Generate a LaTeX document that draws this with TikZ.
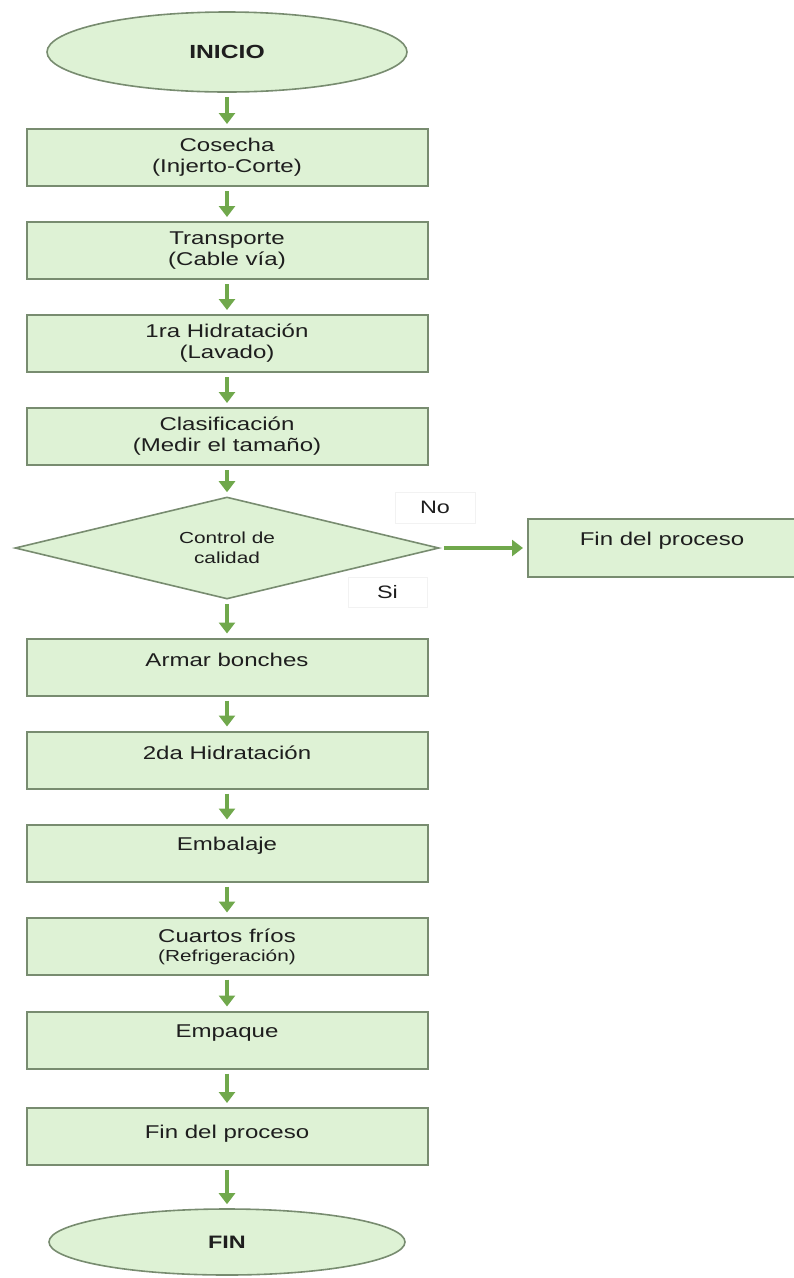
\documentclass[tikz,border=0pt]{standalone}
\usepackage{fontspec}
\setmainfont{Liberation Sans}[FakeStretch=1.3]
\usetikzlibrary{arrows.meta,shapes.geometric}
\definecolor{boxfill}{RGB}{222,242,213}
\definecolor{boxdraw}{RGB}{120,140,112}
\definecolor{arrgreen}{RGB}{112,168,76}
\definecolor{txtcol}{RGB}{30,30,30}
\begin{document}
\begin{tikzpicture}[x=1pt,y=-1pt,
  box/.style={draw=boxdraw,line width=2pt,fill=boxfill,minimum width=401pt,minimum height=57pt,inner sep=0pt},
  sidebox/.style={draw=boxdraw,line width=2pt,fill=boxfill,minimum width=268pt,minimum height=58pt,inner sep=0pt},
  oval/.style={ellipse,draw=boxdraw,line width=1.6pt,fill=boxfill,inner sep=0pt},
  dia/.style={diamond,draw=boxdraw,line width=1.6pt,fill=boxfill,inner sep=0pt,minimum width=424pt,minimum height=102pt},
  lbl/.style={text=txtcol,align=center,font=\fontsize{18.5}{21}\selectfont},
  small/.style={text=txtcol,align=center,font=\fontsize{16}{20}\selectfont},
  tag/.style={draw=black!5,fill=white,text=txtcol,font=\fontsize{18}{20}\selectfont,inner sep=0pt},
  arr/.style={draw=arrgreen,line width=3.5pt,-{Triangle[width=16pt,length=11pt]},shorten <=4pt,shorten >=4pt}]
\useasboundingbox (0,0) rectangle (794,1278);
% start
\node[oval,minimum width=360pt,minimum height=80pt] (start) at (227,52) {};
\node[text=txtcol,font=\fontsize{19}{21}\selectfont\bfseries] at (start.center) {INICIO};
% boxes
\node[box] (b1) at (227,157.5) {};
\node[lbl] at (b1.center) {Cosecha\\(Injerto-Corte)};
\node[box] (b2) at (227,250.5) {};
\node[lbl] at (b2.center) {Transporte\\(Cable vía)};
\node[box] (b3) at (227,343.5) {};
\node[lbl] at (b3.center) {1ra Hidratación\\(Lavado)};
\node[box] (b4) at (227,436.5) {};
\node[lbl] at (b4.center) {Clasificación\\(Medir el tamaño)};
% decision
\node[dia] (dec) at (227,548) {};
\node[small] at (dec.center) {Control de\\calidad};
\node[sidebox] (fp1) at (662,548) {};
\node[lbl] at ([yshift=7pt]fp1.center) {Fin del proceso};
\node[tag,minimum width=80pt,minimum height=31pt] (no) at (435,507.5) {No};
\node[tag,minimum width=79pt,minimum height=30pt] (si) at (387.5,592) {Si};
% lower boxes
\node[box] (b5) at (227,667) {};
\node[lbl] at ([yshift=7pt]b5.center) {Armar bonches};
\node[box] (b6) at (227,760) {};
\node[lbl] at ([yshift=7pt]b6.center) {2da Hidratación};
\node[box] (b7) at (227,853) {};
\node[lbl] at ([yshift=7pt]b7.center) {Embalaje};
\node[box] (b8) at (227,946) {};
\node[lbl] at ([yshift=10pt]b8.center) {Cuartos fríos};
\node[small] at ([yshift=-11pt]b8.center) {(Refrigeración)};
\node[box] (b9) at (227,1040) {};
\node[lbl] at ([yshift=7pt]b9.center) {Empaque};
\node[box] (b10) at (227,1136.5) {};
\node[lbl] at ([yshift=3pt]b10.center) {Fin del proceso};
% end
\node[oval,minimum width=356pt,minimum height=66pt] (end) at (227,1242) {};
\node[text=txtcol,font=\fontsize{18}{20}\selectfont\bfseries] at (end.center) {FIN};
% arrows
\draw[arr] (start) -- (b1);
\draw[arr] (b1) -- (b2);
\draw[arr] (b2) -- (b3);
\draw[arr] (b3) -- (b4);
\draw[arr] (b4) -- (dec);
\draw[arr] (dec.east) -- (fp1.west);
\draw[arr] (dec) -- (b5);
\draw[arr] (b5) -- (b6);
\draw[arr] (b6) -- (b7);
\draw[arr] (b7) -- (b8);
\draw[arr] (b8) -- (b9);
\draw[arr] (b9) -- (b10);
\draw[arr] (b10) -- (end);
\end{tikzpicture}
\end{document}
